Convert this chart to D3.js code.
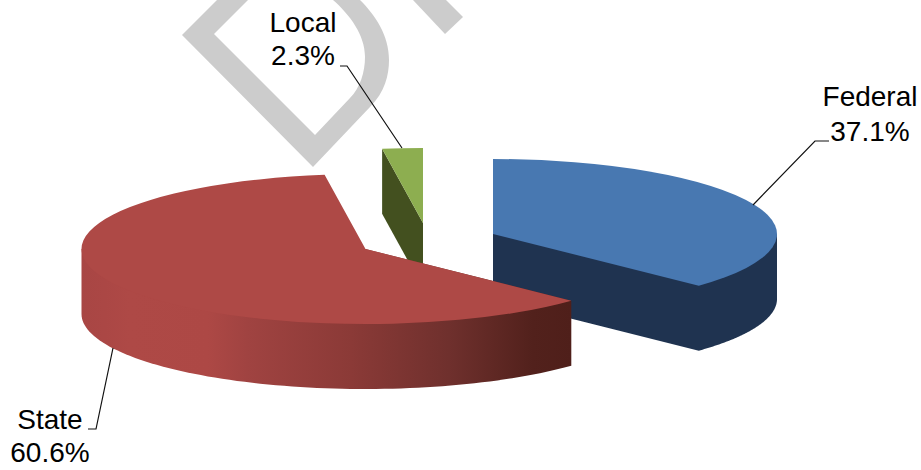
<!DOCTYPE html>
<html><head><meta charset="utf-8">
<script src="https://cdn.jsdelivr.net/npm/d3@7"></script>
<style>html,body{margin:0;padding:0;background:#fff}svg{display:block}</style>
</head><body><script>
const categories = ["Federal", "State", "Local"];
const shares = [37.1, 60.6, 2.3];
const shareLabels = ["37.1%", "60.6%", "2.3%"];
const topColors = ["#4878B1", "#AE4946", "#8DAE50"];
const sideColors = ["#1F3350", "url(#stateWall)", "#43501F"];
const apexes = [[493, 234], [365.5, 249], [423, 223]];
const drawOrder = [2, 0, 1];

const W = 921, H = 470, rx = 284, ry = 75, depth = 65;
const svg = d3.select("body").append("svg").attr("width", W).attr("height", H);

const grad = svg.append("defs").append("linearGradient").attr("id", "stateWall")
  .attr("gradientUnits", "userSpaceOnUse").attr("x1", 80).attr("x2", 572).attr("y1", 0).attr("y2", 0);
[[0, "#A84644"], [.05, "#AB4745"], [.1, "#AE4946"], [.26, "#AD4845"], [.34, "#A04341"], [.55, "#8B3A37"],
 [.75, "#6F302D"], [.92, "#52211C"], [1, "#4F1F1A"]].forEach(([o, c]) =>
  grad.append("stop").attr("offset", o).attr("stop-color", c));

// clipped DRAFT watermark glyph fragments
svg.append("path").attr("fill", "#CCCCCC").attr("fill-rule", "evenodd").attr("d",
  "M182,35 L217,0 L360,0 C375,15 389,35 389,60 C389,75 385,92 370,107 L313,167 Z " +
  "M214,34 L248,0 L333,0 C350,15 365,35 365,57 C365,72 360,88 350,98 L315,135 Z");
svg.append("path").attr("fill", "#CCCCCC").attr("d", "M413,0 L446,0 L463,17 L445,34 Z");

const pie = d3.pie().sort(null).value(d => d)(shares);
const arc = d3.arc().innerRadius(0).outerRadius(rx);
const pt = (i, a, dy = 0) => [apexes[i][0] + rx * Math.sin(a), apexes[i][1] - ry * Math.cos(a) + dy];
const line = d3.line();

drawOrder.forEach(i => {
  const s = pie[i];
  const g = svg.append("g");
  const c = apexes[i];
  if (i === 2) {
    const e = pt(2, s.startAngle);
    g.append("path").attr("fill", sideColors[2])
      .attr("d", line([e, c, [c[0], c[1] + depth], [e[0], e[1] + depth]]) + "Z");
  } else {
    const a0 = Math.max(s.startAngle, Math.PI / 2), a1 = Math.min(s.endAngle, Math.PI * 1.5);
    const as = d3.range(0, 81).map(k => a0 + (a1 - a0) * k / 80);
    // the wall runs up under the top face, so no seam shows along the rim
    const lower = as.map(a => pt(i, a, depth));
    const poly = i === 0
      ? [c, pt(i, a0)].concat(lower, [[c[0], c[1] + depth]])
      : [c, pt(i, a0)].concat(lower, [pt(i, a1)]);
    g.append("path").attr("d", line(poly) + "Z").attr("fill", sideColors[i]);
  }
  g.append("path").attr("d", arc(s)).attr("fill", topColors[i])
    .attr("transform", `translate(${apexes[i]}) scale(1,${ry / rx})`);
});

// leader lines
const leaders = [
  [[829, 141], [815, 141], [753, 205]],
  [[88, 429], [96, 429], [113, 348]],
  [[340, 66], [347, 66], [402, 148]]
];
leaders.forEach(l => svg.append("path").attr("d", line(l)).attr("fill", "none")
  .attr("stroke", "#111").attr("stroke-width", 1.2));

const labelPos = [[870, 106, 141], [50, 429, 462], [303, 32, 65]];
categories.forEach((c, i) => {
  const t = svg.append("text").attr("text-anchor", "middle")
    .style("font-family", "'Liberation Sans',Arial,sans-serif").style("font-size", "28px").attr("fill", "#000");
  t.append("tspan").attr("x", labelPos[i][0]).attr("y", labelPos[i][1]).text(c);
  t.append("tspan").attr("x", labelPos[i][0]).attr("y", labelPos[i][2]).text(shareLabels[i]);
});
</script></body></html>
